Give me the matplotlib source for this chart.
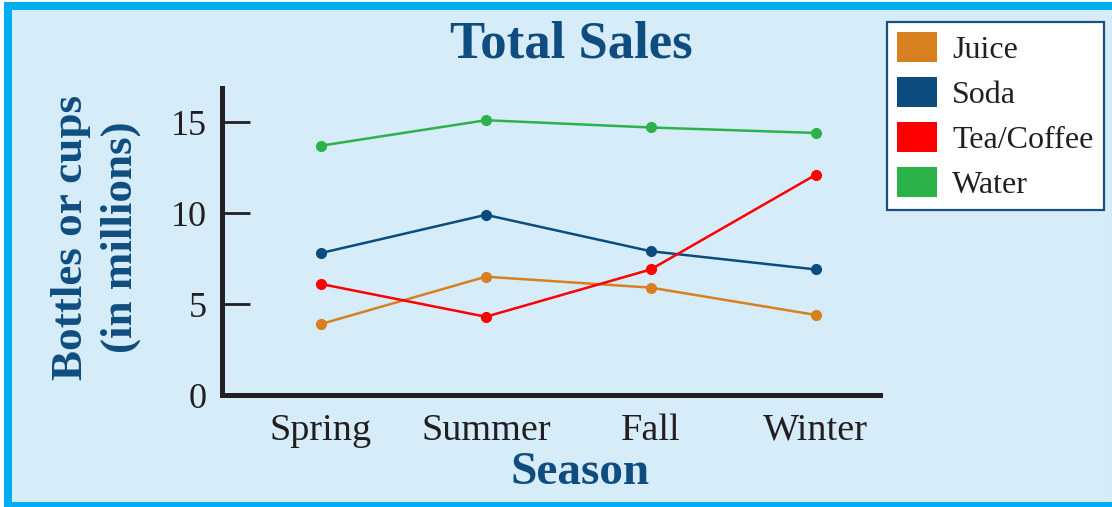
import matplotlib
matplotlib.use('Agg')
import matplotlib.pyplot as plt
from matplotlib.patches import Patch, Rectangle

seasons = ['Spring', 'Summer', 'Fall', 'Winter']
juice = [3.9, 6.5, 5.9, 4.4]
soda = [7.8, 9.9, 7.9, 6.9]
tea_coffee = [6.1, 4.3, 6.9, 12.1]
water = [13.7, 15.1, 14.7, 14.4]

series = [
    ('Juice', juice, '#d87f1f'),
    ('Soda', soda, '#0b4c7e'),
    ('Tea/Coffee', tea_coffee, '#ff0000'),
    ('Water', water, '#2bb34a'),
]

W, H = 1112, 507
BG = '#d6edf9'
FRAME = '#00aeef'
NAVY = '#0f4d80'
INK = '#231f20'

plt.rcParams['font.family'] = ['Liberation Serif', 'DejaVu Serif']

fig = plt.figure(figsize=(W / 100, H / 100), dpi=100, facecolor='white')
# light blue panel with the bright blue frame
fig.patches.append(Rectangle((8 / W, 1 - 506 / H), (1116 - 8) / W, (506 - 6) / H,
                             transform=fig.transFigure, facecolor=BG, edgecolor=FRAME,
                             linewidth=5.8, zorder=-5))

ax = fig.add_axes([222 / W, 1 - 395 / H, (880 - 222) / W, (395 - 88) / H])
ax.set_facecolor('none')

x = list(range(len(seasons)))
for name, vals, color in series:
    ax.plot(x, vals, color=color, lw=1.8, marker='o', ms=7, solid_capstyle='round')

ax.set_xlim(-0.6, 3.39)
ax.set_ylim(0, 16.87)
ax.set_yticks([0, 5, 10, 15])
ax.set_xticks(x)
ax.set_xticklabels(seasons)
for s in ['top', 'right']:
    ax.spines[s].set_visible(False)
for s in ['left', 'bottom']:
    ax.spines[s].set_linewidth(3.6)
    ax.spines[s].set_color(INK)
    ax.spines[s].set_capstyle('projecting')
ax.tick_params(axis='y', direction='in', length=20, width=2, color=INK, labelsize=26,
               labelcolor=INK, pad=11)
ax.tick_params(axis='x', length=0, labelsize=27.5, labelcolor=INK, pad=13)

fig.text(571 / W, 1 - 45 / H, 'Total Sales', ha='center', va='center', fontsize=38,
         fontweight='bold', color=NAVY)
fig.text(580 / W, 1 - 473 / H, 'Season', ha='center', va='center', fontsize=34,
         fontweight='bold', color=NAVY)
fig.text(96 / W, 1 - 237 / H, 'Bottles or cups\n(in millions)', ha='center', va='center',
         rotation=90, fontsize=32.5, fontweight='bold', color=NAVY, multialignment='center',
         linespacing=1.3)

handles = [Patch(facecolor=c, edgecolor='none', label=n) for n, _, c in series]
leg = fig.legend(handles=handles, loc='upper left', bbox_to_anchor=(887 / W, 1 - 22 / H),
                 bbox_transform=fig.transFigure, borderaxespad=0, fontsize=23,
                 handlelength=1.25, handleheight=1.07, handletextpad=0.47,
                 labelspacing=0.38, borderpad=0.32, fancybox=False, framealpha=1)
leg.get_frame().set_edgecolor('#1b4f7f')
leg.get_frame().set_linewidth(1.6)
for t in leg.get_texts():
    t.set_color(INK)

fig.savefig('out.png', dpi=100, facecolor=fig.get_facecolor())
